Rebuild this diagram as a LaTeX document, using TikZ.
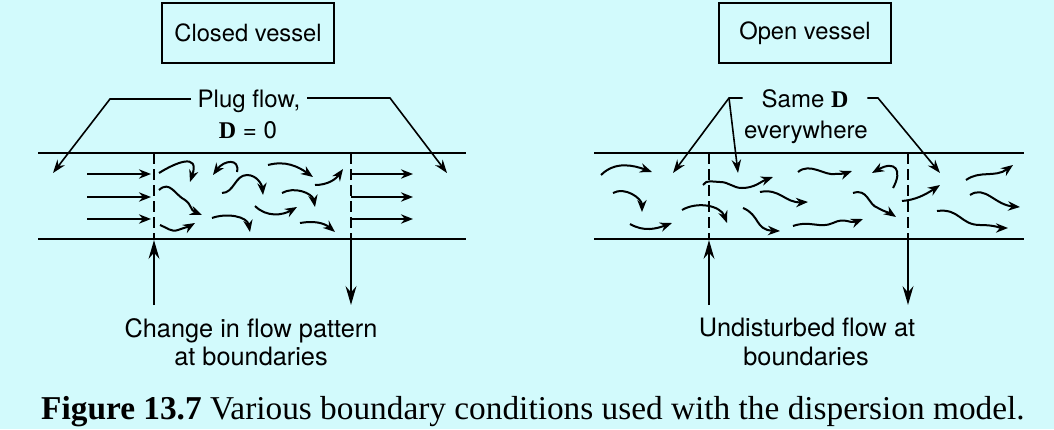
\documentclass[tikz,border=0pt]{standalone}
\usepackage{fontspec}
\setmainfont{Liberation Serif}
\setsansfont{TeX Gyre Heros}
\usetikzlibrary{arrows.meta}
\definecolor{bgcyan}{RGB}{210,250,252}

\begin{document}
\begin{tikzpicture}[x=0.75pt,y=-0.75pt,
  vessel/.style={draw,line width=1.3pt,minimum width=129pt,minimum height=45pt,
    font=\sffamily\fontsize{17.8}{20}\selectfont},
  lbl/.style={font=\sffamily\fontsize{18}{20}\selectfont,inner xsep=5pt,inner ysep=1pt,anchor=base},
  note/.style={font=\sffamily\fontsize{19}{21}\selectfont,anchor=base},
  tube/.style={line width=2pt},
  bound/.style={line width=1.4pt,dash pattern=on 8pt off 4pt},
  lead/.style={line width=1.2pt,-{Stealth[length=10pt,width=7pt]}},
  swirl/.style={line width=1.5pt,-{Stealth[length=9pt,width=7pt]}},
  bigarr/.style={line width=2.2pt,-{Stealth[length=14pt,width=8pt]}}]

  \fill[bgcyan] (0,0) rectangle (1054,429);
  \useasboundingbox (0,0) rectangle (1054,429);

  % titles
  \node[vessel] (closed) at (248,33) {Closed vessel};
  \node[vessel] (open) at (805,33) {Open vessel};

  % closed vessel
  \draw[tube] (38,153) -- (466,153);
  \draw[tube] (38,239) -- (466,239);
  \draw[bound] (154,153) -- (154,239);
  \draw[bound] (351,153) -- (351,239);

  \node[lbl] (plug) at (249,107) {Plug flow,};
  \node[lbl] (dzero) at (248,138) {\textbf{\rmfamily D} = 0};
  \coordinate (pl) at (110,99);
  \coordinate (ptl) at (53,173);
  \coordinate (pr) at (390,98);
  \coordinate (ptr) at (447,173);
  \draw[lead] (plug.west |- pl) -- (pl) -- (ptl);
  \draw[lead] (plug.east |- pr) -- (pr) -- (ptr);

  \foreach \y in {174,197,219} {
    \draw[swirl] (87,\y) -- (151,\y);
    \draw[swirl] (351,\y) -- (413,\y);
  }

  \draw[swirl] (159,173) .. controls (175,163) and (200,152) .. (190,182);
  \draw[swirl] (237,172) .. controls (240,158) and (224,160) .. (213,175);
  \draw[swirl] (222,193) to[out=0,in=180] (247,175) to[out=0,in=95] (263,195);
  \draw[swirl] (268,165) to[out=15,in=145] (313,177);
  \draw[swirl] (315,185) to[out=0,in=235] (343,169);
  \draw[swirl] (159,190) .. controls (170,180) and (175,195) .. (185,200)
    .. controls (192,205) and (190,210) .. (202,215);
  \draw[swirl] (282,193) to[out=30,in=100] (315,207);
  \draw[swirl] (212,218) to[out=20,in=100] (250,232);
  \draw[swirl] (255,206) to[out=-45,in=210] (297,207);
  \draw[swirl] (160,225) to[out=-20,in=200] (178,230) to[out=20,in=210] (195,223);
  \draw[swirl] (300,223) to[out=10,in=140] (335,232);

  \coordinate (cin) at (154,305);
  \coordinate (cinb) at (154,240);
  \coordinate (coutb) at (351,239);
  \coordinate (cout) at (351,305);
  \draw[bigarr] (cin) -- (cinb);
  \draw[bigarr] (coutb) -- (cout);
  \node[note] (change) at (251,337) {Change in flow pattern};
  \node[note] (changeb) at (251,365) {at boundaries};

  % open vessel
  \draw[tube] (594,153) -- (1024,153);
  \draw[tube] (594,239) -- (1024,239);
  \draw[bound] (709,153) -- (709,239);
  \draw[bound] (908,153) -- (908,239);

  \node[lbl,inner xsep=14pt] (same) at (805,107) {Same \textbf{\rmfamily D}};
  \node[lbl] (every) at (806,138) {everywhere};
  \coordinate (sl) at (729,98);
  \coordinate (stl) at (673,173);
  \coordinate (stm) at (738,173);
  \coordinate (sr) at (878,98);
  \coordinate (str) at (940,173);
  \draw[lead] (same.west |- sl) -- (sl) -- (stl);
  \draw[lead] (sl) -- (stm);
  \draw[lead] (same.east |- sr) -- (sr) -- (str);

  \draw[swirl] (601,175) to[out=45,in=160] (652,172);
  \draw[swirl] (613,193) to[out=30,in=90] (642,212);
  \draw[swirl] (630,224) to[out=-30,in=200] (672,223);
  \draw[swirl] (682,210) to[out=30,in=110] (727,223);
  \draw[swirl] (703,185) to[out=60,in=180] (720,182) to[out=0,in=180] (742,188)
    to[out=0,in=200] (773,177);
  \draw[swirl] (760,192) .. controls (780,188) and (785,203) .. (808,202);
  \draw[swirl] (743,208) .. controls (760,215) and (755,230) .. (780,231);
  \draw[swirl] (793,226) .. controls (810,220) and (820,229) .. (833,223)
    .. controls (845,217) and (850,224) .. (863,219);
  \draw[swirl] (798,172) .. controls (810,162) and (825,176) .. (835,174)
    to[out=0,in=200] (852,171);
  \draw[swirl] (893,188) .. controls (903,170) and (895,160) .. (872,173);
  \draw[swirl] (853,193) .. controls (868,188) and (868,205) .. (878,208)
    .. controls (885,212) and (890,213) .. (896,217);
  \draw[swirl] (902,201) .. controls (915,200) and (925,195) .. (940,185);
  \draw[swirl] (966,180) .. controls (980,170) and (995,178) .. (1013,165);
  \draw[swirl] (970,195) .. controls (985,185) and (995,205) .. (1020,207);
  \draw[swirl] (937,211) .. controls (960,208) and (960,225) .. (980,225)
    .. controls (995,225) and (1000,228) .. (1008,228);

  \coordinate (oin) at (709,305);
  \coordinate (oinb) at (709,240);
  \coordinate (ooutb) at (908,239);
  \coordinate (oout) at (908,305);
  \draw[bigarr] (oin) -- (oinb);
  \draw[bigarr] (ooutb) -- (oout);
  \node[note] (undist) at (807,336) {Undisturbed flow at};
  \node[note] (undistb) at (806,365) {boundaries};

  % caption
  \node[font=\fontsize{25}{28}\selectfont,anchor=base] (caption) at (533,419)
    {\textbf{Figure 13.7} Various boundary conditions used with the dispersion model.};
\end{tikzpicture}
\end{document}
